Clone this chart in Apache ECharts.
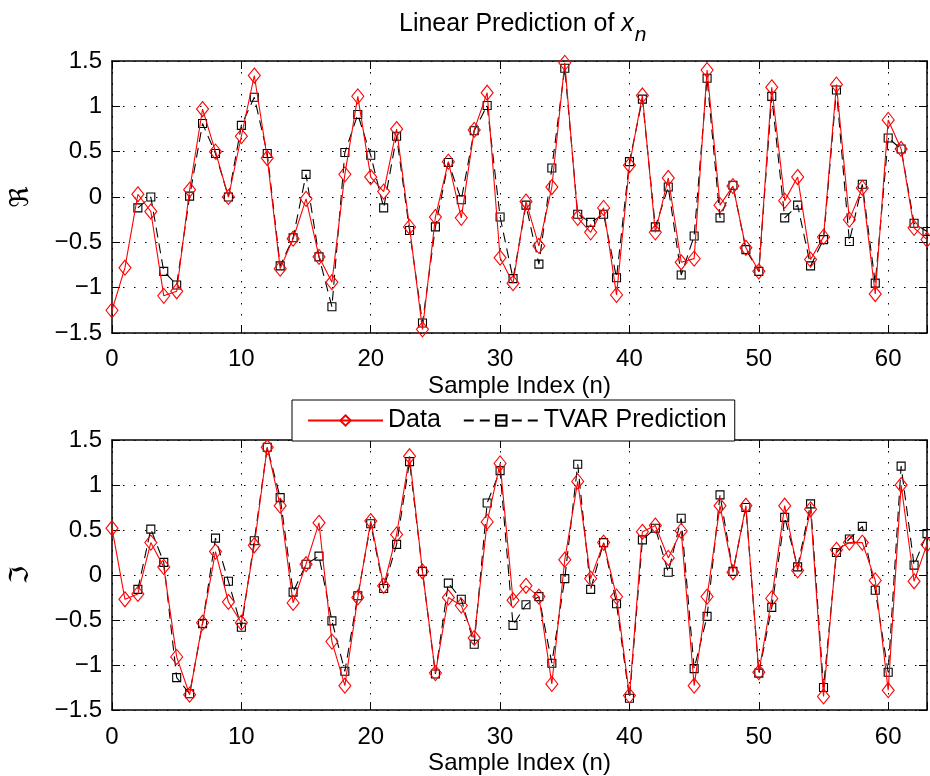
<!DOCTYPE html>
<html>
<head>
<meta charset="utf-8">
<script src="https://cdn.jsdelivr.net/npm/echarts@6/dist/echarts.min.js"></script>
<style>html,body{margin:0;padding:0;background:#fff}#c{width:930px;height:776px}</style>
</head>
<body>
<div id="c"></div>
<script>
var sampleIndex = [];
for (var i = 0; i <= 63; i++) sampleIndex.push(i);
var xTicks = [0, 10, 20, 30, 40, 50, 60];
var yTicks = [-1.5, -1, -0.5, 0, 0.5, 1, 1.5];

var reData = [-1.25,-0.78,0.03,-0.16,-1.09,-1.04,0.08,0.97,0.50,0.00,0.67,1.34,0.43,-0.79,-0.46,-0.02,-0.66,-0.94,0.25,1.11,0.22,0.06,0.75,-0.33,-1.46,-0.22,0.39,-0.23,0.74,1.15,-0.67,-0.95,-0.05,-0.54,0.11,1.48,-0.23,-0.39,-0.12,-1.08,0.35,1.12,-0.39,0.21,-0.72,-0.68,1.40,-0.09,0.12,-0.56,-0.82,1.21,-0.04,0.22,-0.69,-0.44,1.24,-0.25,0.10,-1.07,0.85,0.53,-0.34,-0.47];
var rePred = [null,null,-0.12,0.00,-0.82,-0.97,0.01,0.81,0.48,0.00,0.79,1.10,0.48,-0.76,-0.45,0.25,-0.66,-1.21,0.49,0.91,0.46,-0.12,0.67,-0.37,-1.39,-0.33,0.38,-0.03,0.73,1.01,-0.22,-0.90,-0.09,-0.74,0.32,1.42,-0.19,-0.28,-0.19,-0.89,0.39,1.08,-0.33,0.11,-0.86,-0.43,1.31,-0.23,0.13,-0.58,-0.82,1.11,-0.23,-0.09,-0.76,-0.47,1.18,-0.49,0.14,-0.95,0.65,0.53,-0.29,-0.38];
var imData = [0.52,-0.27,-0.21,0.36,0.09,-0.91,-1.33,-0.53,0.26,-0.30,-0.53,0.33,1.42,0.77,-0.31,0.12,0.58,-0.74,-1.23,-0.25,0.60,-0.12,0.45,1.32,0.04,-1.09,-0.25,-0.34,-0.70,0.59,1.24,-0.28,-0.12,-0.24,-1.21,0.17,1.04,-0.04,0.36,-0.24,-1.34,0.48,0.55,0.19,0.49,-1.23,-0.24,0.77,0.03,0.77,-1.08,-0.26,0.77,0.05,0.73,-1.35,0.28,0.36,0.36,-0.06,-1.28,1.00,-0.07,0.34];
var imPred = [null,null,-0.16,0.51,0.14,-1.14,-1.32,-0.54,0.41,-0.07,-0.58,0.38,1.42,0.86,-0.19,0.12,0.21,-0.51,-1.07,-0.23,0.57,-0.15,0.34,1.26,0.04,-1.10,-0.09,-0.27,-0.77,0.80,1.16,-0.56,-0.33,-0.24,-0.98,-0.04,1.23,-0.16,0.36,-0.32,-1.37,0.39,0.52,0.03,0.63,-1.04,-0.46,0.89,0.04,0.75,-1.09,-0.36,0.64,0.09,0.79,-1.25,0.25,0.40,0.54,-0.17,-1.08,1.21,0.11,0.46];

function pairs(arr) {
  return arr.map(function (v, i) { return [sampleIndex[i], v]; });
}

var FONT = '"Liberation Sans", Arial, sans-serif';
var gridLine = { show: true, lineStyle: { color: '#000', width: 1, type: [1.5, 9.5] } };

function xAxisMain(gi, name, gap, margin) {
  return {
    type: 'value', gridIndex: gi, min: 0, max: 63, interval: 10, position: 'bottom',
    name: name, nameLocation: 'middle', nameGap: gap,
    nameTextStyle: { fontSize: 24, color: '#000', fontFamily: FONT },
    axisLine: { show: true, onZero: false, lineStyle: { color: '#000', width: 1.5 } },
    axisTick: { show: true, inside: true, length: 8, lineStyle: { color: '#000', width: 1 } },
    axisLabel: { fontSize: 24, color: '#000', fontFamily: FONT, margin: margin,
      formatter: function (v) { return xTicks.indexOf(v) >= 0 ? String(v) : ''; } },
    splitLine: gridLine
  };
}
function xAxisTop(gi) {
  return {
    type: 'value', gridIndex: gi, min: 0, max: 63, interval: 10, position: 'top',
    axisLine: { show: true, onZero: false, lineStyle: { color: '#000', width: 1.5 } },
    axisTick: { show: true, inside: true, length: 8, lineStyle: { color: '#000', width: 1 } },
    axisLabel: { show: false }, splitLine: { show: false }
  };
}
function yAxisMain(gi, name) {
  return {
    type: 'value', gridIndex: gi, min: -1.5, max: 1.5, interval: 0.5, position: 'left',
    name: name, nameLocation: 'middle', nameGap: 78, nameRotate: 90,
    nameTextStyle: { fontSize: 26, color: '#000', fontFamily: '"DejaVu Serif", "DejaVu Sans", serif' },
    axisLine: { show: true, onZero: false, lineStyle: { color: '#000', width: 1.5 } },
    axisTick: { show: true, inside: true, length: 8, lineStyle: { color: '#000', width: 1 } },
    axisLabel: { fontSize: 24, color: '#000', fontFamily: FONT, margin: 10,
      formatter: function (v) { return yTicks.indexOf(v) >= 0 ? String(v).replace('-', '\u2212') : ''; } },
    splitLine: gridLine
  };
}
function yAxisRight(gi) {
  return {
    type: 'value', gridIndex: gi, min: -1.5, max: 1.5, interval: 0.5, position: 'right',
    axisLine: { show: true, onZero: false, lineStyle: { color: '#000', width: 1.5 } },
    axisTick: { show: true, inside: true, length: 8, lineStyle: { color: '#000', width: 1 } },
    axisLabel: { show: false }, splitLine: { show: false }
  };
}

function dataSeries(gi, arr) {
  return {
    name: 'Data', type: 'line', xAxisIndex: gi * 2, yAxisIndex: gi * 2,
    data: pairs(arr), symbol: 'diamond', symbolSize: [12, 15], showSymbol: true,
    z: 4, animation: false,
    lineStyle: { color: '#ff0000', width: 1.1 },
    itemStyle: { color: 'rgba(255,255,255,0)', borderColor: '#ff0000', borderWidth: 1.1 }
  };
}
function predSeries(gi, arr) {
  return {
    name: 'TVAR Prediction', type: 'line', xAxisIndex: gi * 2, yAxisIndex: gi * 2,
    data: pairs(arr), symbol: 'rect', symbolSize: 8, showSymbol: true,
    z: 3, animation: false, connectNulls: false,
    lineStyle: { color: '#000', width: 1.1, type: [10, 6] },
    itemStyle: { color: 'rgba(255,255,255,0)', borderColor: '#000', borderWidth: 1.1 }
  };
}

var chart = echarts.init(document.getElementById('c'), null, { renderer: 'canvas' });
chart.setOption({
  backgroundColor: '#fff',
  animation: false,
  title: {
    text: '{a|Linear Prediction of }{x|x}{n|n}',
    left: 394, top: 7,
    textStyle: {
      fontWeight: 'normal',
      rich: {
        a: { fontSize: 25, fontWeight: 'normal', color: '#000', fontFamily: FONT, verticalAlign: 'top', lineHeight: 29 },
        x: { fontSize: 25, fontWeight: 'normal', color: '#000', fontFamily: FONT, fontStyle: 'italic', verticalAlign: 'top', lineHeight: 29 },
        n: { fontSize: 21, fontWeight: 'normal', color: '#000', fontFamily: FONT, fontStyle: 'italic', verticalAlign: 'top', lineHeight: 29, padding: [13, 0, 0, 1] }
      }
    }
  },
  legend: {
    data: ['Data', 'TVAR Prediction'],
    left: 292, top: 400,
    orient: 'horizontal',
    backgroundColor: '#fff', borderColor: '#000', borderWidth: 1,
    padding: [8, 8, 8, 15],
    itemWidth: 75, itemHeight: 13, itemGap: 22,
    textStyle: { fontSize: 25, color: '#000', fontFamily: FONT },
    z: 10
  },
  grid: [
    { left: 107, top: 61, width: 823, height: 272, containLabel: false },
    { left: 107, top: 440, width: 823, height: 271, containLabel: false }
  ],
  xAxis: [xAxisMain(0, 'Sample Index (n)', 41, 14), xAxisTop(0), xAxisMain(1, 'Sample Index (n)', 41, 15), xAxisTop(1)],
  yAxis: [yAxisMain(0, '\u211C'), yAxisRight(0), yAxisMain(1, '\u2111'), yAxisRight(1)],
  series: [predSeries(0, rePred), dataSeries(0, reData), predSeries(1, imPred), dataSeries(1, imData)]
});
</script>
</body>
</html>
